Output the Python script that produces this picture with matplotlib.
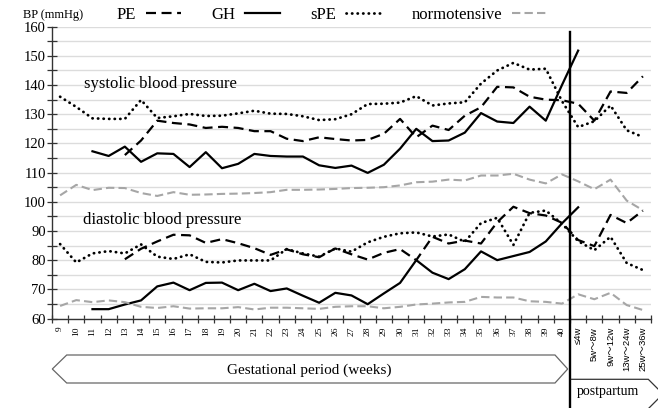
import numpy as np
import matplotlib
matplotlib.use('Agg')
import matplotlib.pyplot as plt
from matplotlib.lines import Line2D
from matplotlib.patches import Polygon

nan = np.nan

# x categories: gestational weeks 9-40 then postpartum periods
weeks = [str(w) for w in range(9, 41)]
pp_labels = ['≤4w', '5w～8w', '9w～12w', '13w～24w', '25w～36w']

# systolic blood pressure (mmHg)
pe_sys = [nan, nan, nan, nan, 116, 121, 127.8, 127, 126.5, 125.3, 125.7, 125.3, 124.2, 124.2,
          121.6, 120.8, 122.1, 121.5, 121, 121.2, 123.3, 128.4, 122.1, 126.1, 124.6, 129.5,
          132.4, 139.4, 139.2, 136, 135, 134.8,
          133.6, 127.8, 137.8, 137.3, 143]
gh_sys = [nan, nan, 117.3, 115.7, 118.9, 113.7, 116.6, 116.4, 111.9, 117, 111.5, 113, 116.4,
          115.7, 115.5, 115.5, 112.5, 111.6, 112.4, 109.9, 112.7, 118.2, 125, 120.8, 121, 123.7,
          130.4, 127.5, 127, 132.6, 127.8, 140,
          151.8, nan, nan, nan, nan]
spe_sys = [136, 132.5, 128.6, 128.4, 128.4, 134.9, 128.7, 129.3, 130.1, 129.4, 129.5, 130.3,
           131.2, 130.2, 130.1, 129.3, 128, 128.3, 130, 133.5, 133.6, 134, 136.2, 133, 133.7,
           134.1, 140.5, 145, 147.6, 145.3, 145.6, 134.5,
           125.6, 127.6, 133, 124.5, 122.2]
nor_sys = [102.2, 105.8, 104, 104.8, 104.7, 103, 102, 103.3, 102.4, 102.5, 102.7, 102.8, 103,
           103.3, 104.1, 104.1, 104.2, 104.4, 104.7, 104.8, 105, 105.6, 106.7, 106.9, 107.6,
           107.3, 109, 109, 109.6, 107.6, 106.3, 109.4,
           107, 104.3, 107.6, 100.4, 97.1]

# diastolic blood pressure (mmHg)
pe_dia = [nan, nan, nan, nan, 80.3, 83.9, 86.4, 88.7, 88.5, 85.9, 87.2, 85.8, 84.1, 81.8, 83.7,
          82, 81, 84, 82, 80.2, 82.5, 83.8, 80, 88, 85.7, 86.7, 85.7, 93, 98.3, 96.1, 95.3, 92.8,
          86.9, 84.8, 95.5, 92.7, 97]
gh_dia = [nan, nan, 63.2, 63.2, 64.8, 66.2, 71, 72.3, 69.7, 72.2, 72.3, 69.7, 71.9, 69.4, 70.3,
          67.8, 65.4, 68.8, 67.9, 64.9, 68.6, 72.2, 80, 75.7, 73.5, 76.9, 83, 80, 81.4, 82.8,
          86.4, 92.6,
          98.1, nan, nan, nan, nan]
spe_dia = [85.5, 79.2, 82.3, 83.1, 82.3, 85.4, 81.2, 80.4, 82, 79.4, 79.2, 79.9, 79.9, 79.9,
           83.8, 82.3, 81.2, 84, 82.9, 86.1, 88, 89.2, 89.5, 88.1, 88.8, 86.3, 92.7, 94.5, 85.2,
           96.2, 97, 92.5,
           86.5, 83.4, 88, 79, 76.6]
nor_dia = [64.3, 66.3, 65.6, 66.2, 65.6, 64, 63.6, 64.2, 63.4, 63.5, 63.5, 63.9, 63.1, 63.7,
           63.7, 63.5, 63.3, 64, 64.2, 64.2, 63.5, 64, 64.8, 65.1, 65.5, 65.7, 67.4, 67.2, 67.2,
           65.9, 65.7, 65.1,
           68.3, 66.6, 68.8, 64.6, 62.9]

labels = weeks + pp_labels
x = np.arange(len(labels))

serif = 'Liberation Serif'
W, H = 658, 408
fig = plt.figure(figsize=(W / 100, H / 100), dpi=100)
ax = fig.add_axes([52 / W, 89.5 / H, 599 / W, 291.8 / H])


def px(xp, yp):
    # pixel position in the image -> figure fraction
    return (xp / W, 1 - yp / H)


styles = {
    'PE': dict(color='black', lw=1.6, linestyle=(0, (4.5, 2.5))),
    'GH': dict(color='black', lw=1.6, linestyle='-'),
    'sPE': dict(color='black', lw=2.0, linestyle=(0, (0.1, 1.9)), dash_capstyle='round'),
    'normotensive': dict(color='#a6a6a6', lw=1.5, linestyle=(0, (4, 2))),
}
series = {
    'PE': (pe_sys, pe_dia),
    'GH': (gh_sys, gh_dia),
    'sPE': (spe_sys, spe_dia),
    'normotensive': (nor_sys, nor_dia),
}
for name, (s, d) in series.items():
    ax.plot(x, s, **styles[name], zorder=3)
    ax.plot(x, d, **styles[name], zorder=3)

ax.set_xlim(-0.5, len(labels) - 0.5)
ax.set_ylim(60, 160)

# grid every 5 mmHg
ax.set_yticks(np.arange(60, 161, 10))
ax.set_yticks(np.arange(65, 160, 10), minor=True)
ax.yaxis.grid(True, which='both', color='#dcdcdc', lw=1)
ax.set_axisbelow(True)
ax.tick_params(axis='y', which='both', direction='inout', length=7, width=0.9,
               color='#333333', labelsize=10.5, pad=1)
for t in ax.get_yticklabels():
    t.set_fontfamily(serif)

# tick marks at category edges, labels at centres
ax.set_xticks(np.arange(-0.5, len(labels), 1))
ax.set_xticklabels([])
ax.tick_params(axis='x', which='major', direction='inout', length=6, width=0.9, color='#333333')
ax.set_xticks(x, labels, minor=True, rotation=90)
ax.tick_params(axis='x', which='minor', length=0, pad=6, labelsize=6.8)
for i, t in enumerate(ax.xaxis.get_minorticklabels()):
    if i < len(weeks):
        t.set_fontfamily(serif)
    else:
        t.set_fontfamily(['Liberation Sans', 'Noto Sans CJK JP'])

for sp in ['top', 'right']:
    ax.spines[sp].set_visible(False)
for sp in ['left', 'bottom']:
    ax.spines[sp].set_color('#333333')
    ax.spines[sp].set_linewidth(1.0)

ax.text(1.5, 140.5, 'systolic blood pressure', fontfamily=serif, fontsize=12, va='center')
ax.text(1.4, 93.6, 'diastolic blood pressure', fontfamily=serif, fontsize=12, va='center')

# delivery line, running down through the period boxes
ax.plot([31.5, 31.5], [-0.31, 0.982], transform=ax.get_xaxis_transform(),
        color='black', lw=1.7, clip_on=False, zorder=5)

# legend row
handles = [Line2D([], [], **styles[n]) for n in series]
fig.legend(handles, list(series), loc='center left', bbox_to_anchor=px(117, 15),
           ncol=4, frameon=False, markerfirst=False, borderpad=0, borderaxespad=0,
           handlelength=2.1, handletextpad=0.6, columnspacing=1.8,
           prop={'family': serif, 'size': 12})
fig.text(*px(23, 15), 'BP (mmHg)', fontfamily=serif, fontsize=9, va='center')

# gestational period arrow box
gest = [px(52.3, 369), px(66.7, 355), px(555, 355), px(567.7, 369), px(555, 383), px(66.7, 383)]
fig.patches.append(Polygon(gest, closed=True, fill=False, ec='#666666', lw=0.9,
                           transform=fig.transFigure))
fig.text(*px(309, 370), 'Gestational period (weeks)', fontfamily=serif, fontsize=11,
         ha='center', va='center')

# postpartum box
post = [px(570.7, 379.3), px(648.3, 379.3), px(663, 394), px(648.3, 408.7), px(570.7, 408.7)]
fig.patches.append(Polygon(post, closed=False, fill=False, ec='#333333', lw=0.9,
                           transform=fig.transFigure))
fig.text(*px(608, 392), 'postpartum', fontfamily=serif, fontsize=10, ha='center', va='center')

fig.savefig('out.png', dpi=100)
